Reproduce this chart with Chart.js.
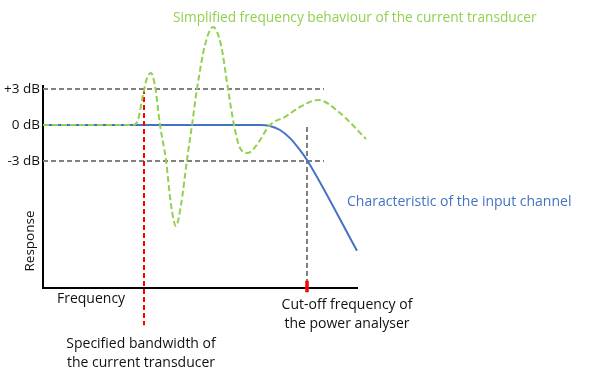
<!DOCTYPE html>
<html>
<head>
<meta charset="utf-8">
<script src="https://cdn.jsdelivr.net/npm/chart.js@4/dist/chart.umd.min.js"></script>
<style>
  html, body { margin: 0; padding: 0; background: #fff; }
  #wrap { width: 601px; height: 375px; position: relative; }
</style>
</head>
<body>
<div id="wrap"><canvas id="c" width="601" height="375"></canvas></div>
<script>
// ---- data (arbitrary frequency units, response in dB) ----
const transducerFreq = [0, 18, 19, 20, 20.8, 21.6, 22.4, 23.4, 24.6, 25.6, 26.6, 27.6, 28.8, 29.8, 30.8, 32.4, 34, 35.6, 37, 38.2, 39.4, 41, 42.6, 45.4, 48.4, 51.4, 55, 59.4, 64.6];
const transducerDb   = [0, 0, 0.42, 2.5, 3.9, 4.33, 3.25, 0, -2.92, -6.67, -8.42, -6.67, -2.92, 0, 3, 6.67, 8.17, 6.67, 3, 0, -1.92, -2.33, -1.75, 0, 0.67, 1.5, 2.08, 1.0, -1.17];
const channelFreq = [0, 43.4, 45.4, 47.4, 49.4, 51.4, 52.8, 62.8];
const channelDb   = [0, 0, -0.08, -0.42, -1.1, -2.1, -2.92, -10.5];
const levelsDb = [3, 0, -3];
const levelLabels = ['+3 dB', '0 dB', '-3 dB'];
const refLineFreq = [0, 56.2];
const bandwidthFreq = 20.2;
const bandwidthDbRange = [3, -16.7];
const cutoffFreq = 52.8;
const cutoffDbRange = [-0.17, -13.6];
const cutoffMarkDb = [-13.0, -13.95];
const freqRange = [0, 62.8];
const dbRange = [-13.6, 3.25];

const pts = (xs, ys) => xs.map((x, i) => ({x, y: ys[i]}));

const annotations = {
  id: 'annotations',
  afterDraw(chart) {
    const ctx = chart.ctx;
    const sx = chart.scales.x;
    ctx.save();
    ctx.textBaseline = 'middle';
    ctx.textAlign = 'left';
    ctx.font = '13.7px "Open Sans"';
    ctx.fillStyle = '#92D050';
    ctx.fillText('Simplified frequency behaviour of the current transducer', 173, 18);
    ctx.font = '14px "Open Sans"';
    ctx.fillStyle = '#4472C4';
    ctx.fillText('Characteristic of the input channel', 347, 202);
    ctx.fillStyle = '#111';
    ctx.font = '14px "Open Sans"';
    ctx.fillText('Frequency', 57, 299);
    ctx.textAlign = 'center';
    const bx = sx.getPixelForValue(bandwidthFreq);
    ctx.fillText('Specified bandwidth of', bx - 3, 344);
    ctx.fillText('the current transducer', bx - 3, 363);
    const cx = sx.getPixelForValue(cutoffFreq);
    ctx.fillText('Cut-off frequency of', cx + 40, 305);
    ctx.fillText('the power analyser', cx + 40, 324);
    ctx.font = '13.5px "Open Sans"';
    ctx.translate(30, 241);
    ctx.rotate(-Math.PI / 2);
    ctx.fillText('Response', 0, 0);
    ctx.restore();
  }
};

new Chart(document.getElementById('c'), {
  type: 'line',
  data: {
    datasets: [
      { data: pts(transducerFreq, transducerDb), borderColor: '#92D050', borderWidth: 2, borderDash: [6, 3], cubicInterpolationMode: 'monotone', pointRadius: 0, clip: false },
      { data: pts([cutoffFreq, cutoffFreq], cutoffMarkDb), borderColor: '#ff0000', borderWidth: 3.5, pointRadius: 0, clip: false },
      { data: pts([bandwidthFreq, bandwidthFreq], bandwidthDbRange), borderColor: '#ff0000', borderWidth: 2, borderDash: [5, 3], pointRadius: 0, clip: false },
      { data: pts(channelFreq, channelDb), borderColor: '#4472C4', borderWidth: 2, cubicInterpolationMode: 'monotone', pointRadius: 0, clip: false },
      { data: pts(refLineFreq, [levelsDb[0], levelsDb[0]]), borderColor: '#7f7f7f', borderWidth: 2, borderDash: [5, 3], pointRadius: 0, clip: false },
      { data: pts(refLineFreq, [levelsDb[2], levelsDb[2]]), borderColor: '#7f7f7f', borderWidth: 2, borderDash: [5, 3], pointRadius: 0, clip: false },
      { data: pts([cutoffFreq, cutoffFreq], cutoffDbRange), borderColor: '#7f7f7f', borderWidth: 2, borderDash: [5, 3], pointRadius: 0, clip: false }
    ]
  },
  options: {
    responsive: false,
    animation: false,
    events: [],
    layout: { padding: { left: 0, top: 86, right: 244, bottom: 87 } },
    plugins: { legend: { display: false }, tooltip: { enabled: false } },
    scales: {
      x: {
        type: 'linear', min: freqRange[0], max: freqRange[1],
        grid: { display: false, drawTicks: false },
        border: { display: true, color: '#000', width: 2 },
        ticks: { display: false },
        afterFit(s) { s.height = 0; }
      },
      y: {
        type: 'linear', min: dbRange[0], max: dbRange[1],
        grid: { display: false, drawTicks: false },
        border: { display: true, color: '#000', width: 2 },
        afterBuildTicks(s) { s.ticks = levelsDb.map(v => ({value: v})); },
        ticks: {
          padding: 3, color: '#111', font: { family: 'Open Sans', size: 13.5 },
          callback: (v) => levelLabels[levelsDb.indexOf(v)]
        },
        afterFit(s) { s.width = 43; }
      }
    }
  },
  plugins: [annotations]
});
</script>
</body>
</html>
